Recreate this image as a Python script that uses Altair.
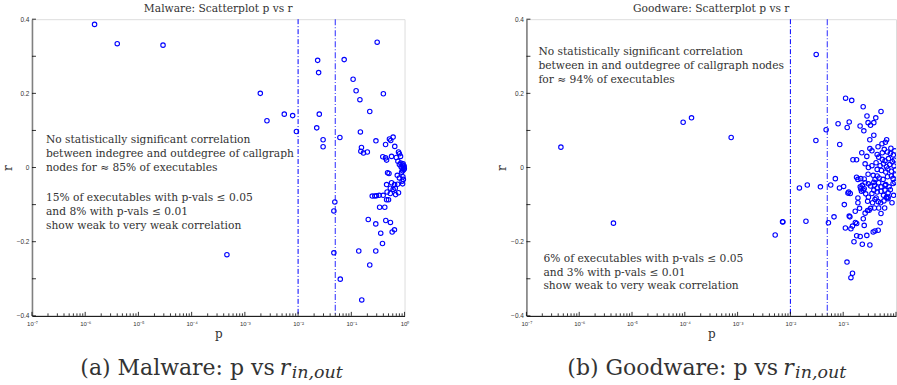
import altair as alt
import pandas as pd

# ---------------- data ----------------
MAL_P = [1.5e-6, 4.0e-6, 2.9e-5, 1.95e-3, 2.6e-3, 5.5e-3, 7.9e-3, 9.3e-3, 0.0233, 0.0243,
         0.025, 0.0224, 0.0295, 0.0295, 0.061, 0.0734, 0.306, 0.108, 0.123, 0.145,
         0.40, 0.222, 0.148, 0.29, 0.155, 0.151, 0.169, 0.20, 0.44, 0.52,
         0.61, 0.55, 0.655, 0.77, 0.80, 0.39, 0.44, 0.46, 0.57, 0.70,
         0.84, 0.75, 0.85, 0.92, 0.97, 0.90, 0.80, 0.48, 0.51, 0.92,
         0.88, 0.73, 0.80, 0.93, 0.95, 0.90, 0.57, 0.65, 0.74, 0.92,
         0.46, 0.54, 0.61, 0.67, 0.77, 0.68, 0.247, 0.276, 0.297, 0.334,
         0.397, 0.47, 0.54, 0.46, 0.50, 0.34, 0.425, 0.049, 0.047, 0.208,
         0.288, 0.444, 0.543, 0.357, 0.585, 0.646, 0.385, 0.047, 0.138, 0.288,
         0.222, 0.062, 0.157, 4.6e-4, 0.98, 0.96, 0.99, 0.86, 0.94]
MAL_R = [0.386, 0.334, 0.330, 0.200, 0.126, 0.144, 0.140, 0.097, 0.289, 0.256,
         0.144, 0.107, 0.075, 0.056, 0.081, 0.291, 0.338, 0.238, 0.207, 0.183,
         0.199, 0.151, 0.096, 0.072, 0.054, 0.044, 0.039, 0.042, 0.062, 0.077,
         0.082, 0.073, 0.057, 0.042, 0.037, 0.029, 0.026, 0.020, 0.030, 0.027,
         0.030, 0.017, 0.012, 0.006, 0.001, -0.002, 0.008, -0.014, -0.016, -0.009,
         -0.013, -0.021, -0.028, -0.025, -0.032, -0.037, -0.041, -0.046, -0.045, -0.044,
         -0.046, -0.056, -0.059, -0.056, -0.068, -0.073, -0.077, -0.077, -0.076, -0.075,
         -0.075, -0.066, -0.070, -0.087, -0.087, -0.107, -0.107, -0.093, -0.117, -0.140,
         -0.152, -0.143, -0.148, -0.177, -0.174, -0.168, -0.205, -0.230, -0.225, -0.225,
         -0.263, -0.301, -0.357, -0.235, 0.004, -0.006, -0.003, 0.002, 0.010]

GOOD_P = [4.5e-7, 9.3e-5, 1.34e-4, 7.55e-4, 0.0308, 0.0304, 0.0475, 0.0148, 0.0209, 0.037,
          0.058, 4.45e-6, 5.15e-3, 7.1e-3, 7.2e-3, 0.0197, 0.0525, 0.111, 0.145, 0.239,
          0.52, 0.282, 0.414, 0.296, 0.329, 0.38, 0.13, 0.08, 0.119, 0.209,
          0.246, 0.38, 0.319, 0.086, 0.543, 0.63, 0.665, 0.457, 0.32, 0.35,
          0.225, 0.60, 0.686, 0.78, 0.89, 0.153, 0.179, 0.419, 0.47, 0.55,
          0.62, 0.72, 0.85, 0.50, 0.58, 0.66, 0.76, 0.92, 0.53, 0.64,
          0.70, 0.82, 0.97, 0.296, 0.179, 0.19, 0.215, 0.37, 0.44, 0.40,
          0.48, 0.57, 0.69, 0.82, 0.25, 0.26, 0.23, 0.21, 0.071, 0.085,
          0.102, 0.33, 0.39, 0.44, 0.52, 0.62, 0.74, 0.30, 0.47, 0.64,
          0.88, 0.127, 0.136, 0.123, 0.215, 0.239, 0.25, 0.222, 0.267, 0.38,
          0.44, 0.52, 0.62, 0.71, 0.19, 0.19, 0.105, 0.29, 0.36, 0.40,
          0.42, 0.46, 0.51, 0.59, 0.70, 0.61, 0.71, 0.204, 0.31, 0.33,
          0.39, 0.47, 0.169, 0.13, 0.134, 0.067, 0.26, 0.24, 0.29, 0.52,
          0.50, 0.17, 0.18, 0.14, 0.15, 0.11, 0.25, 0.37, 0.40, 0.46,
          0.16, 0.18, 0.21, 0.28, 0.23, 0.32, 0.118, 0.15, 0.14, 0.80,
          0.95, 0.93, 0.88, 0.95, 0.78, 0.90, 0.84, 0.96, 0.58, 0.66,
          0.35, 0.30, 0.55, 0.44, 0.28, 0.35, 0.26, 0.44, 0.30, 0.38]
GOOD_R = [0.055, 0.122, 0.134, 0.081, 0.305, 0.073, 0.102, -0.055, -0.047, -0.052,
          -0.047, -0.150, -0.182, -0.146, -0.147, -0.145, -0.149, 0.187, 0.181, 0.164,
          0.151, 0.139, 0.134, 0.121, 0.114, 0.121, 0.123, 0.118, 0.108, 0.112,
          0.099, 0.087, 0.075, 0.062, 0.064, 0.068, 0.075, 0.056, 0.051, 0.045,
          0.040, 0.049, 0.042, 0.038, 0.034, 0.021, 0.021, 0.013, 0.028, 0.022,
          0.018, 0.024, 0.016, 0.005, 0.010, 0.002, 0.008, 0.004, -0.008, -0.012,
          -0.004, -0.010, -0.006, -0.018, -0.026, -0.032, -0.030, -0.021, -0.023, -0.032,
          -0.028, -0.032, -0.025, -0.023, -0.031, -0.041, -0.048, -0.052, -0.030, -0.055,
          -0.051, -0.050, -0.048, -0.055, -0.052, -0.048, -0.052, -0.044, -0.041, -0.046,
          -0.043, -0.066, -0.070, -0.069, -0.057, -0.061, -0.057, -0.064, -0.071, -0.061,
          -0.066, -0.064, -0.061, -0.068, -0.082, -0.095, -0.100, -0.091, -0.095, -0.086,
          -0.082, -0.092, -0.095, -0.090, -0.084, -0.109, -0.080, -0.110, -0.115, -0.110,
          -0.109, -0.109, -0.118, -0.131, -0.133, -0.133, -0.123, -0.138, -0.116, -0.124,
          -0.149, -0.148, -0.151, -0.165, -0.158, -0.163, -0.156, -0.174, -0.171, -0.169,
          -0.200, -0.184, -0.186, -0.183, -0.207, -0.209, -0.255, -0.285, -0.297, 0.052,
          0.045, 0.020, -0.030, -0.040, -0.060, -0.075, -0.095, -0.020, -0.075, -0.080,
          -0.070, -0.080, 0.040, 0.035, 0.030, 0.005, 0.010, -0.005, 0.000, -0.040]

THRESHOLDS = [0.01, 0.05]
X_TICKS = [1e-7, 1e-6, 1e-5, 1e-4, 1e-3, 1e-2, 1e-1, 1.0]
Y_TICKS = [-0.4, -0.3, -0.2, -0.1, 0.0, 0.1, 0.2, 0.3, 0.4]
MINOR_TICKS = [k * 10.0 ** e for e in range(-7, 0) for k in range(2, 10)]

MAL_TITLE = "Malware: Scatterplot p vs r"
GOOD_TITLE = "Goodware: Scatterplot p vs r"
MAL_TOP = ["No statistically significant correlation",
           "between indegree and outdegree of callgraph",
           "nodes for \u2248 85% of executables"]
MAL_BOTTOM = ["15% of executables with p-vals \u2264 0.05",
              "and 8% with p-vals \u2264 0.01",
              "show weak to very weak correlation"]
GOOD_TOP = ["No statistically significant correlation",
            "between in and outdegree of callgraph nodes",
            "for \u2248 94% of executables"]
GOOD_BOTTOM = ["6% of executables with p-vals \u2264 0.05",
               "and 3% with p-vals \u2264 0.01",
               "show weak to very weak correlation"]
MAL_CAPTION = "(a) Malware: p vs"
GOOD_CAPTION = "(b) Goodware: p vs"
CAP_R = "r"
CAP_SUB = "in,out"

# ---------------- styling ----------------
H = 297
SERIF = "DejaVu Serif"
SANS = "Liberation Sans"
BLUE = "#0000ff"
TXT = "#333333"

xs = alt.Scale(type="log", domain=[1e-7, 1])
ys = alt.Scale(domain=[-0.4, 0.4], nice=False, zero=False)

SUP = "['\u2070','\u00b9','\u00b2','\u00b3','\u2074','\u2075','\u2076','\u2077']"
X_LABEL_EXPR = ("'10' + (datum.value < 0.5 ? '\u207b' : '') + " + SUP +
                "[round(-log(datum.value)/LN10)]")
X_LABEL_EXPR_CUT = "datum.value > 0.5 ? '' : (" + X_LABEL_EXPR + ")"
Y_LABEL_EXPR = "abs(datum.value) < 1e-9 ? '0' : format(datum.value, '.1f')"


def make_axes(cut_last):
    x_axis = alt.Axis(values=X_TICKS, labelExpr=X_LABEL_EXPR_CUT if cut_last else X_LABEL_EXPR,
                      title="p", grid=False, ticks=False, labelFont=SANS, labelFontSize=6,
                      labelColor=TXT, labelPadding=5, labelFlush=False, domainColor="#000000",
                      domainWidth=1, titleFont=SERIF, titleFontSize=12, titleFontWeight="normal",
                      titleColor=TXT, titlePadding=2)
    y_axis = alt.Axis(values=Y_TICKS, labelExpr=Y_LABEL_EXPR, title="r", grid=False,
                      ticks=False, labelFont=SANS, labelFontSize=6.5, labelColor=TXT,
                      labelPadding=3, labelFlush=False, domainColor="#808080", domainWidth=1.6,
                      titleFont=SERIF, titleFontSize=12, titleFontWeight="normal",
                      titleColor=TXT, titlePadding=2)
    return x_axis, y_axis


one = pd.DataFrame({"k": [0]})


def text_block(lines, x, y, size=10.7, italic=False, align="left", line_height=14.2):
    return alt.Chart(one).mark_text(
        align=align, baseline="alphabetic", font=SERIF, fontSize=size, color=TXT,
        lineHeight=line_height, fontStyle="italic" if italic else "normal"
    ).encode(x=alt.value(x), y=alt.value(y), text=alt.value(lines))


def panel(p, r, width, cut_last, title, top_lines, top_xy, bottom_lines, bottom_xy,
          caption, cap_x, lh):
    x_axis, y_axis = make_axes(cut_last)
    df = pd.DataFrame({"p": p, "r": r})
    pts = alt.Chart(df).mark_point(
        shape="circle", filled=False, color=BLUE, size=20, strokeWidth=1.1, opacity=1,
        clip=cut_last
    ).encode(x=alt.X("p:Q", scale=xs, axis=x_axis), y=alt.Y("r:Q", scale=ys, axis=y_axis))

    thr1 = alt.Chart(pd.DataFrame({"p": THRESHOLDS[:1]})).mark_rule(
        color=BLUE, strokeWidth=1, strokeDash=[5, 2, 1, 2]
    ).encode(x=alt.X("p:Q", scale=xs))
    thr2 = alt.Chart(pd.DataFrame({"p": THRESHOLDS[1:]})).mark_rule(
        color=BLUE, strokeWidth=1.2, strokeDash=[6, 2, 1, 2], opacity=0.7
    ).encode(x=alt.X("p:Q", scale=xs))

    xmaj = alt.Chart(pd.DataFrame({"p": X_TICKS})).mark_rule(color="#000000", strokeWidth=0.8).encode(
        x=alt.X("p:Q", scale=xs), y=alt.value(H), y2=alt.value(H - 4))
    xmin = alt.Chart(pd.DataFrame({"p": MINOR_TICKS})).mark_rule(color="#000000", strokeWidth=0.8).encode(
        x=alt.X("p:Q", scale=xs), y=alt.value(H), y2=alt.value(H - 2.5))
    ymaj = alt.Chart(pd.DataFrame({"r": Y_TICKS})).mark_rule(color="#000000", strokeWidth=0.8).encode(
        y=alt.Y("r:Q", scale=ys), x=alt.value(0), x2=alt.value(4))

    top = text_block(top_lines, top_xy[0], top_xy[1], line_height=lh)
    bottom = text_block(bottom_lines, bottom_xy[0], bottom_xy[1], line_height=lh)
    cap_main = text_block(caption, cap_x, H + 59.5, size=22, align="right")
    cap_r = text_block(CAP_R, cap_x + 5, H + 59.5, size=22, italic=True)
    cap_sub = text_block(CAP_SUB, cap_x + 17, H + 62.5, size=17.5, italic=True)

    return alt.layer(thr1, thr2, xmin, xmaj, ymaj, pts, top, bottom, cap_main, cap_r, cap_sub).properties(
        width=width, height=H,
        title=alt.Title(title, font=SERIF, fontSize=10.7, fontWeight="normal", color=TXT,
                        offset=1, anchor="middle"))


left = panel(MAL_P, MAL_R, 373, False, MAL_TITLE, MAL_TOP, (14, 123.7), MAL_BOTTOM, (14, 181.7),
             MAL_CAPTION, 243, 14.3)
right = panel(GOOD_P, GOOD_R, 370, True, GOOD_TITLE, GOOD_TOP, (12, 36), GOOD_BOTTOM, (17, 243),
              GOOD_CAPTION, 252, 13.8)

chart = alt.hconcat(left, right, spacing=122, bounds="flush").properties(
    padding={"left": 0, "top": 2, "right": 0, "bottom": 0}
).configure_view(stroke=None).configure(background="white")

chart.save("out.html", embed_options={"renderer": "svg", "actions": False})
